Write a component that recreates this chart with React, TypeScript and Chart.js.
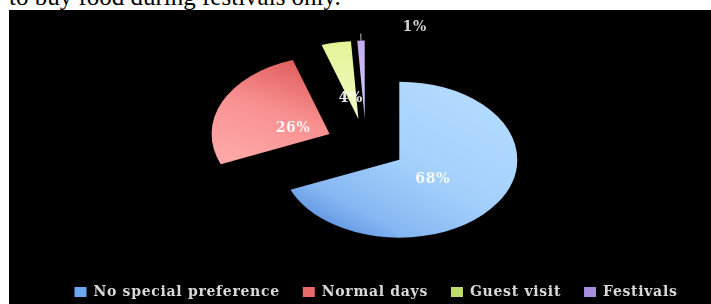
import React, { useEffect, useRef } from "react";
import { Chart, registerables } from "chart.js";

Chart.register(...registerables);

// ---- data ----
const categories = ["No special preference", "Normal days", "Guest visit", "Festivals"];
const shares = [68, 26, 4, 1];
const shareLabels = ["68%", "26%", "4%", "1%"];
const headerText = "to buy food during festivals only.";

// ---- styles ----
const legendColors = ["#6aa8ef", "#e86a6a", "#bddc6a", "#a58de0"];
const flatColors = ["#a6d1fa", "#f38a8a", "#eaf5a2", "#c8b4f2"];
// gradient endpoints relative to pie centre (untilted units) and colour stops
const gradients: any[] = [
  { from: [130, -95], to: [-60, 140], stops: [[0, "#b6ddff"], [0.5, "#a3d0fb"], [0.78, "#86b7f2"], [1, "#4c82d8"]] },
  { from: [-60, -135], to: [-150, 40], stops: [[0, "#dc5656"], [0.45, "#f89090"], [1, "#ffaeae"]] },
  { from: [-5, -160], to: [-5, -40], stops: [[0, "#e4f396"], [1, "#f1f9c2"]] },
  { from: [0, -160], to: [0, -40], stops: [[0, "#c2acf0"], [1, "#d6c8f6"]] },
];

const RADIUS = 118;
const EXPLODE = 40;
const TILT = 0.661;
const CENTER = { x: 357, y: 135 };
const LABEL_R = 0.34;
const LABEL_DROP = 5;
const SPACING = "0.7px";

const tiltPlugin = {
  id: "tiltExplode",
  beforeUpdate(chart: any) {
    chart.ctx.letterSpacing = SPACING;
  },
  beforeLayout(chart: any) {
    chart.ctx.letterSpacing = SPACING;
  },
  beforeDraw(chart: any) {
    chart.ctx.letterSpacing = SPACING;
  },
  afterUpdate(chart: any) {
    const arcs = chart.getDatasetMeta(0).data;
    if (!arcs.length) return;
    const bx = arcs[0].x;
    const by = arcs[0].y;
    chart.$base = { x: bx, y: by };
    arcs.forEach((a: any) => {
      const mid = (a.startAngle + a.endAngle) / 2;
      a.x = bx + Math.cos(mid) * EXPLODE;
      a.y = by + Math.sin(mid) * EXPLODE;
    });
  },
  beforeDatasetsDraw(chart: any) {
    const { ctx } = chart;
    const b = chart.$base;
    ctx.save();
    ctx.translate(CENTER.x, CENTER.y);
    ctx.scale(1, TILT);
    ctx.translate(-b.x, -b.y);
  },
  afterDatasetsDraw(chart: any) {
    const { ctx } = chart;
    ctx.restore();
    const b = chart.$base;
    const arcs = chart.getDatasetMeta(0).data;
    const map = (px: number, py: number) => ({
      x: CENTER.x + (px - b.x),
      y: CENTER.y + (py - b.y) * TILT,
    });
    ctx.save();
    ctx.font = "bold 14px 'DejaVu Serif'";
    ctx.letterSpacing = SPACING;
    ctx.textAlign = "center";
    ctx.textBaseline = "middle";
    arcs.forEach((a: any, i: number) => {
      const mid = (a.startAngle + a.endAngle) / 2;
      const c = Math.cos(mid);
      const s = Math.sin(mid);
      if (i === arcs.length - 1) {
        const edge = map(a.x + c * a.outerRadius, a.y + s * a.outerRadius);
        const end = { x: edge.x + c * 7, y: edge.y + s * 7 };
        ctx.strokeStyle = "#bdbdbd";
        ctx.lineWidth = 1;
        ctx.beginPath();
        ctx.moveTo(edge.x, edge.y);
        ctx.lineTo(end.x, end.y);
        ctx.stroke();
        ctx.fillStyle = "#cfcfcf";
        ctx.fillText(shareLabels[i], end.x + 54, end.y - 6);
      } else {
        const p = map(a.x + c * a.outerRadius * LABEL_R, a.y + s * a.outerRadius * LABEL_R);
        ctx.fillStyle = "rgba(255,255,255,0.9)";
        ctx.fillText(shareLabels[i], p.x, p.y + LABEL_DROP);
      }
    });
    ctx.restore();
  },
};

function sliceFill(context: any) {
  const chart = context.chart;
  const area = chart.chartArea;
  const i = context.dataIndex;
  if (!area) return flatColors[i];
  const bx = (area.left + area.right) / 2;
  const by = (area.top + area.bottom) / 2;
  const g = gradients[i];
  const grad = chart.ctx.createLinearGradient(bx + g.from[0], by + g.from[1], bx + g.to[0], by + g.to[1]);
  g.stops.forEach((st: any) => grad.addColorStop(st[0], st[1]));
  return grad;
}

export default function App() {
  const ref = useRef<HTMLCanvasElement>(null);
  useEffect(() => {
    if (!ref.current) return;
    const chart = new Chart(ref.current, {
      type: "pie",
      data: {
        labels: categories,
        datasets: [
          {
            data: shares,
            backgroundColor: sliceFill as any,
            borderWidth: 0,
            radius: RADIUS,
            clip: false as any,
          } as any,
        ],
      },
      options: {
        responsive: false,
        animation: false,
        events: [],
        layout: { padding: { left: 32, right: 0, top: 0, bottom: 0 } },
        plugins: {
          tooltip: { enabled: false },
          legend: {
            position: "bottom",
            labels: {
              boxWidth: 12,
              boxHeight: 10,
              padding: 23,
              color: "#d9d9d9",
              font: { family: "'DejaVu Serif'", weight: "bold", size: 14 },
              generateLabels: () =>
                categories.map((c, i) => ({
                  text: c,
                  fillStyle: legendColors[i],
                  strokeStyle: legendColors[i],
                  lineWidth: 0,
                  hidden: false,
                  index: i,
                  fontColor: "#d9d9d9",
                })),
            },
          },
        },
      },
      plugins: [tiltPlugin],
    });
    return () => chart.destroy();
  }, []);

  return (
    <div style={{ position: "fixed", left: 0, top: 0, width: 711, height: 304, background: "#fff", overflow: "hidden" }}>
      <div
        style={{
          position: "absolute",
          left: 9,
          top: -15,
          fontFamily: "'Liberation Serif', 'Times New Roman', serif",
          fontSize: 25,
          lineHeight: "24px",
          color: "#000",
          whiteSpace: "nowrap",
        }}
      >
        {headerText}
      </div>
      <div style={{ position: "absolute", left: 9, top: 10, width: 702, height: 294, background: "#000", overflow: "hidden" }}>
        <canvas ref={ref} width={702} height={299} style={{ display: "block" }} />
      </div>
    </div>
  );
}
